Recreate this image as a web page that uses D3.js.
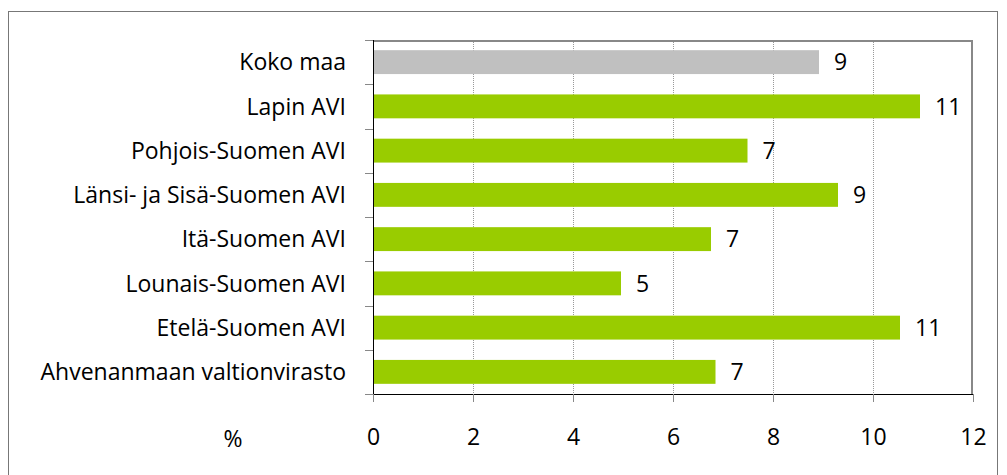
<!DOCTYPE html>
<html>
<head>
<meta charset="utf-8">
<script src="https://cdn.jsdelivr.net/npm/d3@7"></script>
<style>
  body { margin: 0; background: #fff; }
  svg { display: block; }
  svg text { font-family: "Open Sans", sans-serif; font-size: 23px; fill: #000; }
</style>
</head>
<body>
<script>
const categories = ["Koko maa", "Lapin AVI", "Pohjois-Suomen AVI", "Länsi- ja Sisä-Suomen AVI",
  "Itä-Suomen AVI", "Lounais-Suomen AVI", "Etelä-Suomen AVI", "Ahvenanmaan valtionvirasto"];
const values = [8.92, 10.94, 7.49, 9.3, 6.76, 4.96, 10.54, 6.85];
const xTicks = [0, 2, 4, 6, 8, 10, 12];

const width = 1007, height = 475;
const margin = {left: 373, right: 34, top: 40, bottom: 81};

const svg = d3.select("body").append("svg")
  .attr("width", width)
  .attr("height", height);

// outer chart frame
svg.append("rect")
  .attr("x", 8.5).attr("y", 11.5)
  .attr("width", 989).attr("height", 480)
  .attr("fill", "none")
  .attr("stroke", "#777");

const x = d3.scaleLinear()
  .domain([0, 12])
  .range([margin.left, width - margin.right]);

const y = d3.scaleBand()
  .domain(categories)
  .range([margin.top, height - margin.bottom])
  .paddingInner(0.46)
  .paddingOuter(0.23);

const plotTop = margin.top, plotBottom = height - margin.bottom;

// dotted gridlines
svg.append("g")
  .selectAll("line")
  .data(xTicks.filter(d => d > 0 && d < 12))
  .join("line")
  .attr("x1", d => x(d) + 0.5).attr("x2", d => x(d) + 0.5)
  .attr("y1", plotTop).attr("y2", plotBottom)
  .attr("stroke", "#999")
  .attr("stroke-dasharray", "1,1");

// plot border (top + right)
svg.append("path")
  .attr("d", `M${x(0)},${plotTop + 1}H${x(12) - 1}V${plotBottom}`)
  .attr("fill", "none")
  .attr("stroke", "#888")
  .attr("stroke-width", 2);

// bars
svg.append("g")
  .selectAll("rect")
  .data(categories)
  .join("rect")
  .attr("x", x(0))
  .attr("y", d => y(d))
  .attr("width", (d, i) => x(values[i]) - x(0))
  .attr("height", y.bandwidth())
  .attr("fill", (d, i) => i === 0 ? "#c0c0c0" : "#99cc00");

// value labels
svg.append("g")
  .selectAll("text")
  .data(categories)
  .join("text")
  .attr("x", (d, i) => x(values[i]) + 15)
  .attr("y", d => y(d) + y.bandwidth() / 2)
  .attr("dy", "0.36em")
  .text((d, i) => Math.round(values[i]));

// y axis
const yAxis = d3.axisLeft(y).tickSize(0).tickPadding(27);
const gy = svg.append("g")
  .attr("transform", `translate(${x(0)},0)`)
  .call(yAxis)
  .attr("font-family", null).attr("font-size", null);
gy.select(".domain").remove();
gy.selectAll("text").attr("dy", "0.36em");

// category boundary ticks
const bounds = categories.map(d => y(d) - y.step() * y.paddingInner() / 2);
bounds.push(plotBottom);
svg.append("g")
  .selectAll("line")
  .data(bounds)
  .join("line")
  .attr("x1", x(0) - 8).attr("x2", x(0))
  .attr("y1", d => Math.round(d) + 0.5).attr("y2", d => Math.round(d) + 0.5)
  .attr("stroke", "#888");

svg.append("line")
  .attr("x1", x(0) + 0.5).attr("x2", x(0) + 0.5)
  .attr("y1", plotTop).attr("y2", plotBottom)
  .attr("stroke", "#000");

// x axis
const xAxis = d3.axisBottom(x).tickValues(xTicks).tickSize(8).tickPadding(27).tickSizeOuter(0);
const gx = svg.append("g")
  .attr("transform", `translate(0,${plotBottom})`)
  .call(xAxis)
  .attr("font-family", null).attr("font-size", null);
gx.select(".domain").attr("stroke", "#000");
gx.selectAll(".tick line").attr("stroke", "#888");

svg.append("text")
  .attr("x", 233)
  .attr("y", plotBottom + 45)
  .attr("dy", "0.36em")
  .attr("text-anchor", "middle")
  .text("%");
</script>
</body>
</html>
